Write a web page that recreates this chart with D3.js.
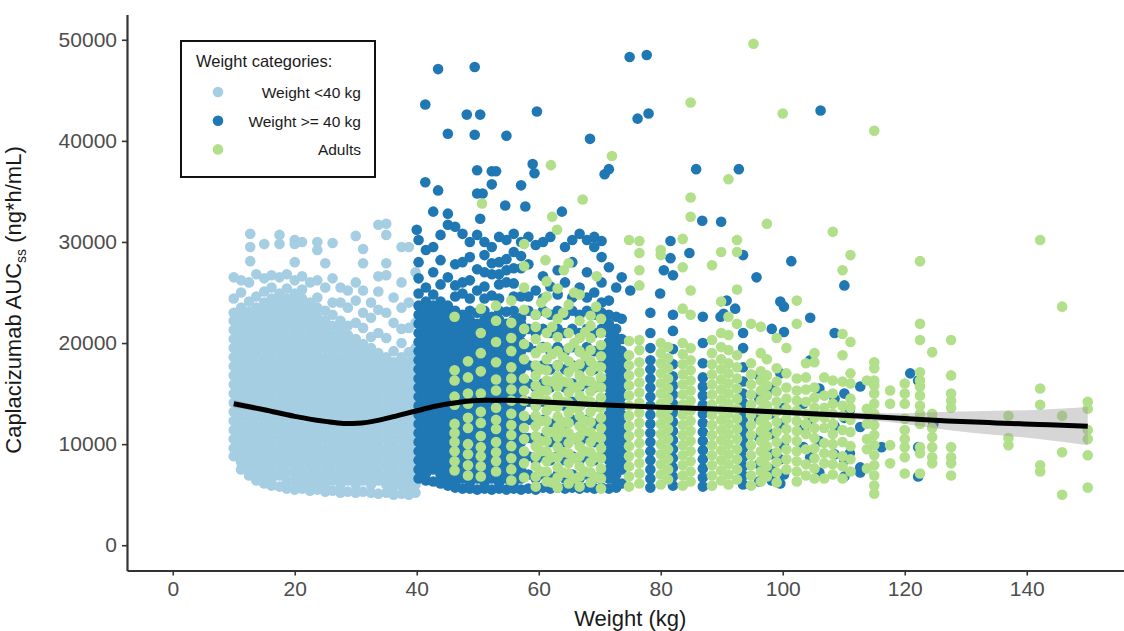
<!DOCTYPE html>
<html>
<head>
<meta charset="utf-8">
<script src="https://cdn.jsdelivr.net/npm/d3@7"></script>
<style>
  body { margin: 0; background: #fff; }
  svg { display: block; font-family: "Liberation Sans", Arial, sans-serif; }
</style>
</head>
<body>
<div id="chart"></div>
<script>
// AUCss values are in thousands of ng*h/mL, one entry per weight column
var lightBlue = [
  [10.0, [8.8, 9.6, 10.5, 11.4, 12.3, 13.2, 14.1, 15.0, 15.9, 16.8, 17.7, 18.6, 19.5, 20.4, 21.3, 22.2, 23.0, 24.4, 26.5]],
  [11.2, [7.5, 8.2, 9.1, 10.0, 10.9, 11.8, 12.7, 13.6, 14.5, 15.4, 16.3, 17.2, 18.1, 19.0, 19.9, 20.8, 21.7, 22.6, 23.5, 25.0, 26.2]],
  [12.5, [6.9, 7.8, 8.7, 9.6, 10.5, 11.4, 12.3, 13.2, 14.1, 15.0, 15.9, 16.8, 17.7, 18.6, 19.5, 20.4, 21.3, 22.2, 23.1, 24.1, 26.0]],
  [12.7, [28.1, 29.5, 30.8]],
  [13.7, [6.4, 7.3, 8.2, 9.1, 10.0, 10.9, 11.8, 12.7, 13.6, 14.5, 15.4, 16.3, 17.2, 18.1, 19.0, 19.9, 20.8, 21.7, 22.6, 23.5, 24.6, 26.8]],
  [15.0, [6.1, 6.9, 7.8, 8.7, 9.6, 10.5, 11.4, 12.3, 13.2, 14.1, 15.0, 15.9, 16.8, 17.7, 18.6, 19.5, 20.4, 21.3, 22.2, 23.1, 24.0, 25.1, 26.4, 29.8]],
  [16.2, [5.9, 6.5, 7.3, 8.2, 9.1, 10.0, 10.9, 11.8, 12.7, 13.6, 14.5, 15.4, 16.3, 17.2, 18.1, 19.0, 19.9, 20.8, 21.7, 22.6, 23.5, 24.4, 25.5, 26.7]],
  [17.5, [5.8, 6.9, 7.8, 8.7, 9.6, 10.5, 11.4, 12.3, 13.2, 14.1, 15.0, 15.9, 16.8, 17.7, 18.6, 19.5, 20.4, 21.3, 22.2, 23.1, 24.0, 24.9, 26.5, 29.8, 30.7]],
  [18.7, [5.6, 6.4, 7.3, 8.2, 9.1, 10.0, 10.9, 11.8, 12.7, 13.6, 14.5, 15.4, 16.3, 17.2, 18.1, 19.0, 19.9, 20.8, 21.7, 22.6, 23.5, 24.4, 25.4, 26.8]],
  [20.0, [5.5, 6.3, 7.1, 7.9, 8.7, 9.6, 10.5, 11.4, 12.3, 13.2, 14.1, 15.0, 15.9, 16.8, 17.7, 18.6, 19.5, 20.4, 21.3, 22.2, 23.1, 24.0, 24.9, 26.2, 28.0, 29.8, 30.2]],
  [21.2, [5.6, 6.4, 7.3, 8.2, 9.1, 10.0, 10.9, 11.8, 12.7, 13.6, 14.5, 15.4, 16.3, 17.2, 18.1, 19.0, 19.9, 20.8, 21.7, 22.6, 23.5, 24.4, 25.3, 26.6, 30.0]],
  [22.5, [5.4, 6.0, 6.9, 7.8, 8.7, 9.6, 10.5, 11.4, 12.3, 13.2, 14.1, 15.0, 15.9, 16.8, 17.7, 18.6, 19.5, 20.4, 21.3, 22.2, 23.1, 24.0, 26.0]],
  [23.7, [5.5, 6.4, 7.3, 8.2, 9.1, 10.0, 10.9, 11.8, 12.7, 13.6, 14.5, 15.4, 16.3, 17.2, 18.1, 19.0, 19.9, 20.8, 21.7, 22.6, 23.5, 24.5, 26.2, 29.2, 30.0]],
  [25.0, [5.3, 6.0, 6.9, 7.8, 8.7, 9.6, 10.5, 11.4, 12.3, 13.2, 14.1, 15.0, 15.9, 16.8, 17.7, 18.6, 19.5, 20.4, 21.3, 22.2, 23.2, 25.5, 27.9]],
  [26.2, [5.4, 6.4, 7.3, 8.2, 9.1, 10.0, 10.9, 11.8, 12.7, 13.6, 14.5, 15.4, 16.3, 17.2, 18.1, 19.0, 19.9, 20.8, 21.7, 22.8, 24.0, 26.4, 29.9]],
  [27.5, [5.2, 6.0, 6.9, 7.8, 8.7, 9.6, 10.5, 11.4, 12.3, 13.2, 14.1, 15.0, 15.9, 16.8, 17.7, 18.6, 19.5, 20.4, 21.3, 22.2, 24.0, 25.5]],
  [28.7, [5.3, 6.4, 7.3, 8.2, 9.1, 10.0, 10.9, 11.8, 12.7, 13.6, 14.5, 15.4, 16.3, 17.2, 18.1, 19.0, 19.9, 20.8, 21.7, 23.5, 25.2]],
  [30.0, [5.2, 6.0, 6.9, 7.8, 8.7, 9.6, 10.5, 11.4, 12.3, 13.2, 14.1, 15.0, 15.9, 16.8, 17.7, 18.6, 19.5, 20.4, 22.0, 24.2, 26.0, 30.6]],
  [31.2, [5.3, 6.4, 7.3, 8.2, 9.1, 10.0, 10.9, 11.8, 12.7, 13.6, 14.5, 15.4, 16.3, 17.2, 18.1, 19.0, 19.9, 21.5, 23.0, 25.2, 27.9, 29.3]],
  [32.5, [5.2, 6.0, 6.9, 7.8, 8.7, 9.6, 10.5, 11.4, 12.3, 13.2, 14.1, 15.0, 15.9, 16.8, 17.7, 18.6, 19.5, 20.6, 22.5, 24.0]],
  [33.7, [5.1, 6.4, 7.3, 8.2, 9.1, 10.0, 10.9, 11.8, 12.7, 13.6, 14.5, 15.4, 16.3, 17.2, 18.1, 19.0, 21.0, 23.3, 25.1, 26.6, 31.7]],
  [35.0, [5.2, 6.0, 6.9, 7.8, 8.7, 9.6, 10.5, 11.4, 12.3, 13.2, 14.1, 15.0, 15.9, 16.8, 17.7, 18.6, 20.5, 23.0, 26.7, 27.9, 30.7, 31.8]],
  [36.2, [5.0, 5.8, 6.4, 7.3, 8.2, 9.1, 10.0, 10.9, 11.8, 12.7, 13.6, 14.5, 15.4, 16.3, 17.2, 18.1, 19.2, 22.0, 24.5]],
  [37.5, [5.1, 6.0, 6.9, 7.8, 8.7, 9.6, 10.5, 11.4, 12.3, 13.2, 14.1, 15.0, 15.9, 16.8, 17.7, 18.6, 20.0, 21.4, 23.5, 26.0, 29.5]],
  [38.7, [5.0, 5.8, 6.4, 7.3, 8.2, 9.1, 10.0, 10.9, 11.8, 12.7, 13.6, 14.5, 15.4, 16.3, 17.2, 18.1, 19.1, 21.5, 24.0, 29.5]],
  [39.8, [5.2, 6.0, 6.9, 7.8, 8.7, 9.6, 10.5, 11.4, 12.3, 13.2, 14.1, 15.0, 15.9, 16.8, 17.7, 18.6, 19.5, 22.0, 27.0]]
];

var darkBlue = [
  [40.0, [31.2]],
  [40.3, [6.6, 7.5, 8.4, 9.3, 10.2, 11.1, 12.0, 12.9, 13.8, 14.7, 15.6, 16.5, 17.4, 18.3, 19.2, 20.1, 21.0, 21.9, 22.8, 23.7, 24.9, 26.4, 28.0, 30.2]],
  [41.4, [35.9, 43.6]],
  [41.5, [6.4, 7.1, 7.9, 8.8, 9.7, 10.6, 11.5, 12.4, 13.3, 14.2, 15.1, 16.0, 16.9, 17.8, 18.7, 19.6, 20.5, 21.4, 22.3, 23.2, 24.1, 25.5, 29.2]],
  [42.7, [6.3, 7.5, 8.4, 9.3, 10.2, 11.1, 12.0, 12.9, 13.8, 14.7, 15.6, 16.5, 17.4, 18.3, 19.2, 20.1, 21.0, 21.9, 22.8, 23.7, 24.8, 27.0, 29.5, 33.0]],
  [43.5, [35.1, 47.1]],
  [43.9, [6.1, 7.0, 7.9, 8.8, 9.7, 10.6, 11.5, 12.4, 13.3, 14.2, 15.1, 16.0, 16.9, 17.8, 18.7, 19.6, 20.5, 21.4, 22.3, 23.2, 24.1, 25.8, 28.2, 30.7]],
  [45.1, [5.9, 6.6, 7.5, 8.4, 9.3, 10.2, 11.1, 12.0, 12.9, 13.8, 14.7, 15.6, 16.5, 17.4, 18.3, 19.2, 20.1, 21.0, 21.9, 22.8, 23.7, 26.5, 31.7, 32.8, 40.7]],
  [46.3, [5.7, 6.2, 7.0, 7.9, 8.8, 9.7, 10.6, 11.5, 12.4, 13.3, 14.2, 15.1, 16.0, 16.9, 17.8, 18.7, 19.6, 20.5, 21.4, 22.3, 23.2, 24.6, 25.7, 27.8, 31.5]],
  [47.5, [5.6, 6.6, 7.5, 8.4, 9.3, 10.2, 11.1, 12.0, 12.9, 13.8, 14.7, 15.6, 16.5, 17.4, 18.3, 19.2, 20.1, 21.0, 21.9, 22.8, 24.9, 26.0, 28.0, 30.8]],
  [48.2, [42.6]],
  [48.7, [5.6, 6.2, 7.0, 7.9, 8.8, 9.7, 10.6, 11.5, 12.4, 13.3, 14.2, 15.1, 16.0, 16.9, 17.8, 18.7, 19.6, 20.5, 21.4, 22.3, 23.2, 24.4, 26.2, 28.5, 30.0]],
  [49.5, [40.6, 47.3]],
  [49.9, [5.5, 6.6, 7.5, 8.4, 9.3, 10.2, 11.1, 12.0, 12.9, 13.8, 14.7, 15.6, 16.5, 17.4, 18.3, 19.2, 20.1, 21.0, 21.9, 23.0, 25.2, 27.3, 30.7, 34.8, 37.1]],
  [50.4, [32.3, 42.6]],
  [50.8, [34.8]],
  [51.1, [5.6, 6.2, 7.0, 7.9, 8.8, 9.7, 10.6, 11.5, 12.4, 13.3, 14.2, 15.1, 16.0, 16.9, 17.8, 18.7, 19.6, 20.5, 21.4, 22.3, 23.2, 24.4, 25.6, 27.0, 28.7, 30.0]],
  [52.3, [5.5, 6.6, 7.5, 8.4, 9.3, 10.2, 11.1, 12.0, 12.9, 13.8, 14.7, 15.6, 16.5, 17.4, 18.3, 19.2, 20.1, 21.0, 21.9, 22.6, 24.7, 26.8, 27.9, 29.5, 35.7, 37.0]],
  [53.0, [37.0]],
  [53.5, [5.6, 6.2, 7.0, 7.9, 8.8, 9.7, 10.6, 11.5, 12.4, 13.3, 14.2, 15.1, 16.0, 16.9, 17.8, 18.7, 19.6, 20.5, 21.4, 22.3, 23.2, 24.4, 25.8, 26.8, 28.0, 30.5]],
  [54.5, [33.6]],
  [54.7, [5.5, 6.6, 7.5, 8.4, 9.3, 10.2, 11.1, 12.0, 12.9, 13.8, 14.7, 15.6, 16.5, 17.4, 18.3, 19.2, 20.1, 21.0, 21.9, 23.1, 26.0, 27.2, 28.3, 30.2, 40.5]],
  [55.9, [5.6, 6.2, 7.0, 7.9, 8.8, 9.7, 10.6, 11.5, 12.4, 13.3, 14.2, 15.1, 16.0, 16.9, 17.8, 18.7, 19.6, 20.5, 21.4, 22.3, 23.2, 24.6, 25.9, 27.4, 29.0, 30.8]],
  [57.1, [5.5, 6.6, 7.5, 8.4, 9.3, 10.2, 11.1, 12.0, 12.9, 13.8, 14.7, 15.6, 16.5, 17.4, 18.3, 19.2, 20.1, 21.0, 21.9, 22.5, 24.6, 27.4, 28.6, 30.0, 35.6]],
  [57.8, [33.5]],
  [58.3, [5.6, 7.0, 8.8, 10.6, 12.4, 14.2, 16.0, 17.8, 19.6, 21.4, 23.2, 24.6, 27.8, 30.5]],
  [59.0, [37.7]],
  [59.3, [36.8]],
  [59.5, [5.5, 6.6, 8.4, 10.2, 12.0, 13.8, 15.6, 17.4, 19.2, 21.0, 22.8, 25.2, 29.7]],
  [59.7, [42.9]],
  [60.7, [5.7, 7.0, 8.8, 10.6, 12.4, 14.2, 16.0, 17.8, 19.6, 21.4, 23.2, 24.4, 26.6, 30.0]],
  [61.9, [5.6, 6.6, 8.4, 10.2, 12.0, 13.8, 15.6, 17.4, 19.2, 21.0, 22.8, 25.6, 30.5]],
  [63.1, [5.7, 7.0, 8.8, 10.6, 12.4, 14.2, 16.0, 17.8, 19.6, 21.4, 23.2, 24.8, 27.2]],
  [63.8, [33.0]],
  [64.3, [5.6, 6.6, 8.4, 10.2, 12.0, 13.8, 15.6, 17.4, 19.2, 21.0, 22.8, 26.0, 29.5]],
  [65.5, [5.7, 7.0, 8.8, 10.6, 12.4, 14.2, 16.0, 17.8, 19.6, 21.4, 23.2, 24.5, 28.0, 30.2]],
  [66.7, [5.6, 6.6, 8.4, 10.2, 12.0, 13.8, 15.6, 17.4, 19.2, 21.0, 22.8, 25.5, 30.8]],
  [67.9, [5.7, 7.0, 8.8, 10.6, 12.4, 14.2, 16.0, 17.8, 19.6, 21.4, 23.2, 24.5, 27.0, 30.2]],
  [68.4, [40.2]],
  [69.1, [5.6, 6.6, 8.4, 10.2, 12.0, 13.8, 15.6, 17.4, 19.2, 21.0, 22.8, 25.0, 29.5, 30.5]],
  [70.3, [5.7, 7.0, 8.8, 10.6, 12.4, 14.2, 16.0, 17.8, 19.6, 21.4, 23.0, 24.0, 26.0, 28.5, 30.1]],
  [70.8, [36.7]],
  [71.5, [5.6, 6.6, 7.5, 8.4, 9.3, 10.2, 11.1, 12.0, 12.9, 13.8, 14.7, 15.6, 16.5, 17.4, 18.3, 19.2, 20.1, 21.0, 21.9, 22.8, 24.2, 27.5, 37.2]],
  [72.7, [5.7, 6.2, 7.0, 7.9, 8.8, 9.7, 10.6, 11.5, 12.4, 13.3, 14.2, 15.1, 16.0, 16.9, 17.8, 18.7, 19.6, 20.5, 21.4, 22.6, 25.5]],
  [73.6, [6.1, 7.5, 8.4, 9.3, 10.2, 11.1, 12.0, 12.9, 13.8, 14.7, 15.6, 16.5, 17.4, 18.3, 19.2, 20.4, 22.4, 26.5]],
  [74.9, [48.3]],
  [75.0, [25.2]],
  [76.2, [42.2]],
  [77.7, [48.5]],
  [78.0, [42.7]],
  [78.3, [5.7, 6.6, 7.5, 8.4, 9.3, 10.2, 11.1, 12.0, 12.9, 13.8, 14.7, 15.6, 16.5, 17.4, 18.3, 19.5, 21.0, 23.0]],
  [79.9, [24.9]],
  [80.5, [27.2]],
  [81.6, [28.4, 30.1]],
  [82.0, [5.9, 6.8, 7.7, 8.6, 9.5, 10.4, 11.3, 12.2, 13.1, 14.0, 14.9, 15.8, 16.7, 17.9, 19.4, 21.2, 22.8, 26.7]],
  [84.7, [28.9]],
  [85.8, [37.2]],
  [86.8, [32.1]],
  [86.9, [5.8, 6.7, 7.6, 8.5, 9.4, 10.3, 11.2, 12.1, 13.0, 13.9, 14.8, 15.7, 16.6, 18.0, 20.0, 22.6]],
  [89.8, [22.6]],
  [89.9, [32.0]],
  [90.3, [22.9]],
  [90.8, [24.2]],
  [92.2, [23.4]],
  [92.8, [37.2]],
  [93.5, [6.0, 6.9, 7.8, 8.7, 9.6, 10.5, 11.4, 12.3, 13.2, 14.1, 15.0, 16.2, 17.6, 19.5, 21.0, 28.7]],
  [95.7, [26.5]],
  [96.1, [6.3, 8.0, 10.7, 12.5, 14.6, 16.8]],
  [98.2, [6.4, 7.5, 9.0, 11.0, 13.0, 15.5, 21.4]],
  [99.6, [6.1, 8.5, 12.0, 17.0, 24.1]],
  [100.2, [7.0, 9.8, 13.6, 21.1, 23.6]],
  [101.4, [28.1]],
  [103.4, [9.7, 11.5, 14.0]],
  [104.5, [8.7, 12.5, 18.3, 22.5]],
  [106.0, [7.2, 10.3, 15.5]],
  [106.2, [43.0]],
  [108.5, [9.0, 11.8, 14.5, 21.0]],
  [110.1, [6.8, 8.4, 12.6, 15.0, 25.7]],
  [111.0, [9.1, 13.4]],
  [112.7, [7.2, 7.7, 11.7, 15.7]],
  [116.2, [9.7]],
  [120.9, [17.0]],
  [122.2, [6.8, 9.7, 16.3]],
  [124.7, [12.0]]
];

var adults = [
  [46.2, [7.4, 8.3, 9.3, 10.2, 11.1, 12.0, 13.9, 14.7, 16.3, 17.3, 22.6]],
  [48.4, [6.9, 7.9, 9.0, 10.0, 11.6, 12.6, 14.0, 15.0, 16.6, 18.2]],
  [50.5, [6.8, 7.8, 8.8, 9.7, 10.8, 12.1, 13.2, 15.0, 17.2, 19.0, 21.0, 23.4]],
  [50.7, [33.8]],
  [53.0, [7.3, 8.3, 9.2, 10.2, 11.5, 12.4, 13.6, 15.3, 16.4, 18.1, 20.1, 22.2, 23.7]],
  [55.5, [6.4, 7.5, 8.6, 9.8, 10.9, 11.9, 13.0, 14.3, 15.4, 16.5, 17.6, 19.2, 20.5, 22.0, 24.2]],
  [57.6, [6.7, 8.1, 9.3, 10.5, 11.6, 12.8, 14.3, 15.3, 16.5, 18.4, 19.9, 21.4, 23.3, 25.5, 27.6, 29.8]],
  [59.5, [5.8, 6.8, 7.8, 8.8, 9.8, 10.8, 11.8, 12.8, 13.8, 14.8, 15.8, 16.8, 17.8, 19.0, 20.4, 21.6, 22.8]],
  [60.4, [7.3, 9.3, 10.3, 12.3, 14.4, 15.3, 17.4, 19.5, 24.0]],
  [61.1, [28.2]],
  [61.3, [6.3, 7.3, 8.3, 9.3, 10.3, 11.3, 12.3, 13.3, 14.3, 15.3, 16.3, 17.3, 18.4, 19.6, 21.0, 23.0, 24.6, 26.1]],
  [62.0, [37.6]],
  [62.2, [32.5, 6.2, 8.7, 11.2, 13.8, 16.2, 18.9, 21.6]],
  [63.0, [31.2]],
  [63.1, [5.7, 6.7, 7.7, 8.7, 9.7, 10.7, 11.7, 12.7, 13.7, 14.7, 15.7, 16.7, 17.8, 19.2, 20.6, 22.4, 25.4]],
  [64.0, [7.2, 9.2, 11.2, 12.2, 14.2, 16.2, 18.6, 23.0]],
  [64.1, [27.2]],
  [64.9, [6.1, 7.1, 8.1, 9.1, 10.1, 11.1, 12.1, 13.1, 14.1, 15.1, 16.1, 17.1, 18.2, 19.5, 21.0, 23.8, 27.9]],
  [65.8, [6.6, 8.6, 10.6, 13.6, 15.6, 17.6, 20.0, 25.0]],
  [66.7, [5.8, 6.8, 7.8, 8.8, 9.8, 10.8, 11.8, 12.8, 13.8, 14.8, 15.8, 16.8, 17.9, 19.2, 20.5, 22.2, 24.8]],
  [67.2, [34.2]],
  [67.6, [7.3, 9.3, 11.3, 12.3, 14.3, 16.3, 18.7, 21.1]],
  [68.5, [6.2, 7.2, 8.2, 9.2, 10.2, 11.2, 12.2, 13.2, 14.2, 15.2, 16.2, 17.2, 18.2, 19.3, 20.5, 21.7, 22.7]],
  [69.4, [6.7, 8.7, 10.7, 13.7, 15.7, 17.7, 23.6]],
  [69.5, [26.6]],
  [70.2, [5.6, 6.6, 7.6, 8.6, 9.6, 10.6, 11.6, 12.6, 13.6, 14.6, 15.6, 16.6, 17.6, 18.7, 19.8, 21.0, 22.4]],
  [72.0, [38.5]],
  [74.8, [5.8, 6.8, 7.8, 8.8, 9.8, 10.8, 11.8, 12.8, 13.8, 14.8, 15.8, 16.8, 17.8, 18.8, 20.2, 30.2]],
  [76.5, [6.1, 7.1, 8.1, 9.1, 10.1, 11.1, 12.1, 13.1, 14.1, 15.1, 16.1, 17.1, 18.1, 19.3, 20.3, 25.7, 27.2, 28.9, 30.1]],
  [80.0, [6.0, 7.0, 8.0, 9.0, 10.0, 11.0, 12.0, 13.0, 14.0, 15.0, 16.0, 17.0, 18.0, 19.0, 20.0, 28.7, 29.2]],
  [81.2, [6.5, 7.5, 8.5, 9.5, 10.5, 11.5, 12.5, 13.5, 14.5, 15.5, 16.5, 17.5, 18.5, 19.6]],
  [83.6, [5.9, 6.9, 7.9, 8.9, 9.9, 10.9, 11.9, 12.9, 13.9, 14.9, 15.9, 16.9, 17.9, 18.9, 20.0, 23.4, 27.5, 30.3]],
  [84.9, [6.3, 7.3, 8.3, 9.3, 10.3, 11.3, 12.3, 13.3, 14.3, 15.3, 16.3, 17.3, 18.3, 19.5, 22.8, 25.2, 32.5, 34.4, 43.8]],
  [88.4, [5.9, 6.9, 7.9, 8.9, 9.9, 10.9, 11.9, 12.9, 13.9, 14.9, 15.9, 16.9, 17.9, 19.0, 20.3, 27.7]],
  [89.9, [6.4, 7.4, 8.4, 9.4, 10.4, 11.4, 12.4, 13.4, 14.4, 15.4, 16.4, 17.4, 18.4, 19.6, 21.0, 24.1, 29.0]],
  [91.1, [6.0, 7.0, 8.0, 9.0, 10.0, 11.0, 12.0, 13.0, 14.0, 15.0, 16.0, 17.0, 18.0, 19.3, 20.8, 22.6, 36.2]],
  [92.5, [6.5, 7.5, 8.5, 9.5, 10.5, 11.5, 12.5, 13.5, 14.5, 15.5, 16.5, 17.6, 18.8, 21.9, 25.3, 29.0, 30.2]],
  [94.8, [5.9, 6.9, 7.9, 8.9, 9.9, 10.9, 11.9, 12.9, 13.9, 14.9, 15.9, 16.9, 18.0, 21.9]],
  [95.2, [49.6]],
  [96.4, [6.3, 7.3, 8.3, 9.3, 10.3, 11.3, 12.3, 13.3, 14.3, 15.3, 16.3, 17.2, 19.0, 21.6]],
  [97.4, [6.8, 7.8, 8.8, 9.8, 10.8, 11.8, 12.8, 13.8, 14.8, 15.8, 16.8, 18.4, 31.8]],
  [99.0, [6.2, 7.2, 8.2, 9.2, 10.2, 11.2, 12.2, 13.2, 14.2, 15.2, 16.2, 17.5, 20.5]],
  [100.0, [42.7]],
  [100.6, [7.5, 8.5, 9.5, 10.5, 11.5, 12.5, 13.5, 14.5, 15.6, 17.0, 19.5]],
  [102.3, [6.3, 7.3, 8.3, 9.3, 10.3, 11.3, 12.3, 13.3, 14.3, 15.3, 16.5, 21.9, 24.2]],
  [103.8, [6.9, 8.0, 9.5, 11.0, 12.0, 13.0, 14.2, 15.4, 16.6, 18.0]],
  [105.2, [6.6, 7.6, 8.6, 9.6, 10.6, 11.6, 12.6, 13.6, 14.6, 15.6, 18.1, 19.0]],
  [106.8, [6.6, 8.1, 9.1, 10.1, 11.6, 12.6, 13.6, 14.8, 16.6]],
  [108.2, [7.0, 8.0, 9.0, 10.0, 11.0, 12.0, 13.0, 14.0, 15.0, 16.3, 31.0]],
  [109.8, [6.6, 7.8, 8.8, 10.2, 11.4, 12.8, 13.8, 16.2, 18.8, 20.9, 27.2]],
  [111.1, [7.3, 8.5, 9.8, 11.2, 12.4, 13.6, 14.5, 16.0, 17.0, 20.1, 28.7]],
  [113.8, [7.6, 9.5, 10.5, 12.0, 13.5, 16.3]],
  [115.0, [5.1, 5.9, 6.9, 7.9, 8.9, 9.9, 10.9, 11.9, 13.0, 14.0, 15.0, 15.8, 16.3, 17.5, 18.1, 41.0]],
  [117.6, [8.1, 9.9, 14.0, 15.3]],
  [120.0, [7.1, 8.7, 9.7, 10.5, 11.4, 12.5, 14.0, 15.0, 16.0]],
  [122.5, [7.1, 9.1, 9.7, 12.0, 13.0, 13.8, 14.8, 15.7, 16.3, 17.1, 20.3, 21.9, 28.1]],
  [124.5, [8.1, 8.7, 9.7, 10.7, 11.6, 12.5, 13.0, 19.1]],
  [127.6, [6.9, 8.1, 8.7, 9.7, 13.6, 14.3, 15.0, 16.8, 20.3]],
  [137.0, [9.9, 10.6, 12.8]],
  [142.2, [7.3, 7.9, 13.9, 15.5, 30.2]],
  [145.8, [5.0, 9.2, 12.8, 23.6]],
  [150.0, [5.7, 8.9, 10.5, 11.4, 13.5, 14.2]]
];

// Loess fit, with its confidence band (thousands)
var smoothWeight = [10, 15, 20, 25, 28, 31, 34, 37, 40, 43, 47, 51, 55, 60, 70, 80, 90, 100, 110, 120, 127, 135, 142, 150];
var smoothFit    = [14.0, 13.4, 12.75, 12.25, 12.05, 12.1, 12.4, 12.85, 13.3, 13.75, 14.15, 14.33, 14.33, 14.2, 13.9, 13.65, 13.45, 13.15, 12.85, 12.53, 12.3, 12.1, 11.95, 11.77];
var smoothLow    = [13.6, 13.15, 12.55, 12.05, 11.85, 11.9, 12.2, 12.65, 13.1, 13.55, 13.95, 14.13, 14.13, 14.0, 13.7, 13.45, 13.25, 12.9, 12.55, 12.0, 11.4, 10.9, 10.5, 9.9];
var smoothHigh   = [14.4, 13.65, 12.95, 12.45, 12.25, 12.3, 12.6, 13.05, 13.5, 13.95, 14.35, 14.53, 14.53, 14.4, 14.1, 13.85, 13.65, 13.4, 13.15, 13.06, 13.2, 13.3, 13.4, 13.68];

var xTicks = [0, 20, 40, 60, 80, 100, 120, 140];
var yTicks = [0, 10000, 20000, 30000, 40000, 50000];

var categories = ["Weight <40 kg", "Weight >= 40 kg", "Adults"];
var colors     = ["#a6cee3", "#1f78b4", "#b2df8a"];

(function() {
  var width = 1124, height = 631;

  var x = d3.scaleLinear().domain([-7.5, 157.5]).range([127, 1133.5]);
  var y = d3.scaleLinear().domain([-2500, 52500]).range([570.5, 14.5]);

  var svg = d3.select("#chart").append("svg")
    .attr("width", width)
    .attr("height", height);

  function expand(cols) {
    var pts = [];
    cols.forEach(function(c) {
      c[1].forEach(function(v) { pts.push({ w: c[0], auc: v * 1000 }); });
    });
    return pts;
  }

  // Points: children first, then heavier children, adults on top
  [lightBlue, darkBlue, adults].forEach(function(series, i) {
    svg.append("g")
      .selectAll("circle")
        .data(expand(series))
      .enter().append("circle")
        .attr("cx", function(d) { return x(d.w); })
        .attr("cy", function(d) { return y(d.auc); })
        .attr("r", 5.3)
        .attr("fill", colors[i]);
  });

  // Smooth + band
  var smooth = smoothWeight.map(function(w, i) {
    return { w: w, fit: smoothFit[i] * 1000, lo: smoothLow[i] * 1000, hi: smoothHigh[i] * 1000 };
  });

  svg.append("path")
    .datum(smooth)
    .attr("fill", "#999")
    .attr("fill-opacity", 0.4)
    .attr("d", d3.area()
      .curve(d3.curveMonotoneX)
      .x(function(d) { return x(d.w); })
      .y0(function(d) { return y(d.lo); })
      .y1(function(d) { return y(d.hi); }));

  svg.append("path")
    .datum(smooth)
    .attr("fill", "none")
    .attr("stroke", "#000")
    .attr("stroke-width", 5)
    .attr("d", d3.line()
      .curve(d3.curveMonotoneX)
      .x(function(d) { return x(d.w); })
      .y(function(d) { return y(d.fit); }));

  // Axes
  var xAxis = svg.append("g")
    .attr("transform", "translate(0," + y.range()[0] + ")")
    .call(d3.axisBottom(x).tickValues(xTicks).tickSize(5).tickSizeOuter(0).tickPadding(6));

  var yAxis = svg.append("g")
    .attr("transform", "translate(" + x.range()[0] + ",0)")
    .call(d3.axisLeft(y).tickValues(yTicks).tickSize(5).tickSizeOuter(0).tickPadding(5).tickFormat(d3.format("d")));

  [xAxis, yAxis].forEach(function(a) {
    a.select(".domain").attr("stroke", "#333").attr("stroke-width", 2.2);
    a.selectAll(".tick line").attr("stroke", "#333").attr("stroke-width", 1.6);
    a.selectAll(".tick text")
      .attr("fill", "#4d4d4d")
      .style("font-size", "21px");
  });

  svg.append("text")
    .attr("x", (x.range()[0] + x.range()[1]) / 2)
    .attr("y", 626)
    .attr("text-anchor", "middle")
    .style("font-size", "22px")
    .attr("fill", "#1a1a1a")
    .text("Weight (kg)");

  var ytitle = svg.append("text")
    .attr("transform", "translate(21,300) rotate(-90)")
    .attr("text-anchor", "middle")
    .style("font-size", "22px")
    .attr("fill", "#1a1a1a");
  ytitle.append("tspan").text("Caplacizumab AUC");
  ytitle.append("tspan").attr("dy", 5).style("font-size", "14px").text("ss");
  ytitle.append("tspan").attr("dy", -5).text(" (ng*h/mL)");

  // Legend
  var legend = svg.append("g").attr("transform", "translate(181,41)");

  legend.append("rect")
    .attr("width", 194)
    .attr("height", 136)
    .attr("fill", "#fff")
    .attr("stroke", "#111")
    .attr("stroke-width", 2);

  legend.append("text")
    .attr("x", 15)
    .attr("y", 26)
    .style("font-size", "16.5px")
    .attr("fill", "#1a1a1a")
    .text("Weight categories:");

  var items = legend.selectAll("g.item")
      .data(categories)
    .enter().append("g")
      .attr("class", "item")
      .attr("transform", function(d, i) { return "translate(0," + (51 + i * 28.7) + ")"; });

  items.append("circle")
    .attr("cx", 37)
    .attr("cy", 0)
    .attr("r", 5.3)
    .attr("fill", function(d, i) { return colors[i]; });

  items.append("text")
    .attr("x", 180)
    .attr("y", 6)
    .attr("text-anchor", "end")
    .style("font-size", "15.5px")
    .attr("fill", "#1a1a1a")
    .text(function(d) { return d; });
})();
</script>
</body>
</html>
